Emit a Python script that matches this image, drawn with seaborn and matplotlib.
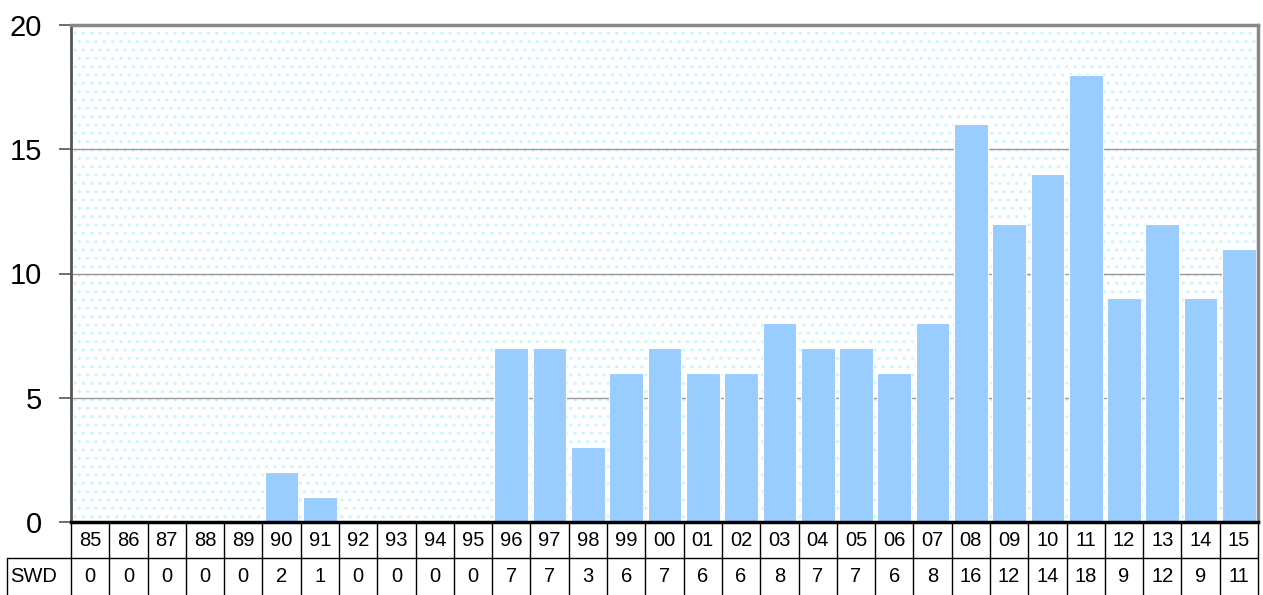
import matplotlib.pyplot as plt
import matplotlib.transforms as mtransforms
from matplotlib.lines import Line2D
import seaborn as sns

years = ["85", "86", "87", "88", "89", "90", "91", "92", "93", "94", "95", "96",
         "97", "98", "99", "00", "01", "02", "03", "04", "05", "06", "07", "08",
         "09", "10", "11", "12", "13", "14", "15"]
swd = [0, 0, 0, 0, 0, 2, 1, 0, 0, 0, 0, 7, 7, 3, 6, 7, 6, 6, 8, 7, 7, 6, 8, 16,
       12, 14, 18, 9, 12, 9, 11]
series_label = "SWD"
y_ticks = [0, 5, 10, 15, 20]

BAR_COLOR = "#99CCFF"

sns.set_theme(style="white")
plt.rcParams["font.family"] = ["Liberation Sans", "DejaVu Sans"]
plt.rcParams["text.color"] = "black"
plt.rcParams["ytick.labelcolor"] = "black"

fig = plt.figure(figsize=(12.63, 5.95), dpi=100)
ax = fig.add_axes([71 / 1263, 73 / 595, 1187 / 1263, 497 / 595])

# dotted background like the old spreadsheet chart
ax.patch.set_facecolor("white")
ax.patch.set_hatch("..")
ax.patch.set_edgecolor("#C4F6FB")
ax.patch.set_linewidth(0)

sns.barplot(x=years, y=swd, order=years, color=BAR_COLOR, width=0.88,
            edgecolor="white", linewidth=0.8, saturation=1, ax=ax, zorder=3)

ax.set_xlim(-0.5, len(years) - 0.5)
ax.set_ylim(0, 20)
ax.set_yticks(y_ticks)
ax.set_yticklabels([str(t) for t in y_ticks], fontsize=21, color="black")
ax.set_xticks([])
ax.set_xlabel("")
ax.tick_params(axis="y", which="major", direction="out", length=9, width=1.2,
               color="#555555", pad=12, left=True)
for y in y_ticks[1:-1]:
    ax.axhline(y, color="#999999", lw=1, zorder=2)

ax.spines["left"].set_color("#555555")
ax.spines["left"].set_linewidth(2)
ax.spines["top"].set_color("#888888")
ax.spines["top"].set_linewidth(2.5)
ax.spines["right"].set_color("#888888")
ax.spines["right"].set_linewidth(2.5)
ax.spines["bottom"].set_color("black")
ax.spines["bottom"].set_linewidth(2.5)
for sp in ax.spines.values():
    sp.set_zorder(5)

# data table below the axes
trans = mtransforms.blended_transform_factory(ax.transData, ax.transAxes)
row_h = 36 / 497
y_top = 0
y_mid = -row_h
y_bot = -73 / 497
label_left = -0.5 - 64 / (1187 / len(years))

for i, (yr, v) in enumerate(zip(years, swd)):
    ax.text(i, (y_top + y_mid) / 2, yr, transform=trans, ha="center",
            va="center", fontsize=14.5, color="black", clip_on=False)
    ax.text(i, (y_mid + y_bot) / 2, str(v), transform=trans, ha="center",
            va="center", fontsize=14.5, color="black", clip_on=False)

ax.text(label_left + 0.08, (y_mid + y_bot) / 2, series_label, transform=trans,
        ha="left", va="center", fontsize=14.5, color="black", clip_on=False)

lines = []
for i in range(len(years) + 1):
    lines.append(Line2D([i - 0.5, i - 0.5], [y_top, y_bot], transform=trans,
                        color="black", lw=1))
lines.append(Line2D([label_left, label_left], [y_mid, y_bot], transform=trans,
                    color="black", lw=1))
lines.append(Line2D([label_left, len(years) - 0.5], [y_mid, y_mid],
                    transform=trans, color="black", lw=1))
for ln in lines:
    ln.set_clip_on(False)
    ax.add_line(ln)

fig.savefig("out.png", dpi=100)
